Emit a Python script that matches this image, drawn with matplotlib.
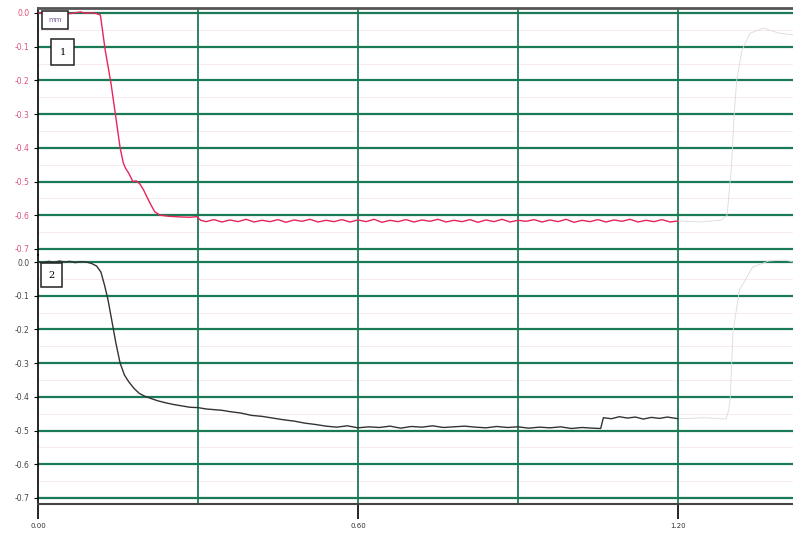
import matplotlib.pyplot as plt

# time axis (s)
x_ticks = [0.0, 0.6, 1.2]
x_grid = [0.3, 0.6, 0.9, 1.2]
y_ticks = [0.0, -0.1, -0.2, -0.3, -0.4, -0.5, -0.6, -0.7]

# channel 1 (red)
red_t = [0.000, 0.010, 0.020, 0.030, 0.040, 0.050, 0.060, 0.070, 0.080, 0.090,
         0.100, 0.110, 0.117, 0.126, 0.137, 0.146, 0.154, 0.160, 0.164, 0.170,
         0.178, 0.184, 0.191, 0.198, 0.204, 0.212, 0.219, 0.229, 0.245, 0.266,
         0.285, 0.298, 0.305, 0.315, 0.330, 0.345, 0.360, 0.375, 0.390, 0.405,
         0.420, 0.435, 0.450, 0.465, 0.480, 0.495, 0.510, 0.525, 0.540, 0.555,
         0.570, 0.585, 0.600, 0.615, 0.630, 0.645, 0.660, 0.675, 0.690, 0.705,
         0.720, 0.735, 0.750, 0.765, 0.780, 0.795, 0.810, 0.825, 0.840, 0.855,
         0.870, 0.885, 0.900, 0.915, 0.930, 0.945, 0.960, 0.975, 0.990, 1.005,
         1.020, 1.035, 1.050, 1.065, 1.080, 1.095, 1.110, 1.125, 1.140, 1.155,
         1.170, 1.185, 1.200]
red_v = [0.000, 0.002, -0.001, 0.003, 0.000, 0.002, -0.002, 0.001, 0.003, -0.001,
         0.001, -0.002, -0.006, -0.110, -0.210, -0.310, -0.400, -0.445, -0.460, -0.475,
         -0.500, -0.498, -0.507, -0.525, -0.545, -0.570, -0.590, -0.600, -0.603, -0.605,
         -0.606, -0.604, -0.615, -0.619, -0.613, -0.620, -0.614, -0.619, -0.612, -0.620,
         -0.615, -0.619, -0.613, -0.621, -0.614, -0.618, -0.612, -0.620, -0.615, -0.619,
         -0.613, -0.620, -0.614, -0.619, -0.612, -0.621, -0.615, -0.619, -0.613, -0.620,
         -0.614, -0.618, -0.612, -0.620, -0.615, -0.619, -0.613, -0.621, -0.614, -0.619,
         -0.612, -0.620, -0.615, -0.618, -0.613, -0.620, -0.614, -0.619, -0.612, -0.621,
         -0.615, -0.619, -0.613, -0.620, -0.614, -0.618, -0.612, -0.620, -0.615, -0.619,
         -0.613, -0.620, -0.617]
red_tail_t = [1.200, 1.240, 1.280, 1.292, 1.300, 1.305, 1.310, 1.320, 1.335, 1.360, 1.390, 1.416]
red_tail_v = [-0.617, -0.620, -0.615, -0.600, -0.460, -0.310, -0.200, -0.110, -0.060, -0.045, -0.060, -0.065]

# channel 2 (black)
blk_t = [0.000, 0.010, 0.020, 0.030, 0.040, 0.050, 0.060, 0.070, 0.080, 0.090,
         0.100, 0.110, 0.118, 0.125, 0.131, 0.138, 0.146, 0.154, 0.162, 0.170,
         0.180, 0.190, 0.200, 0.212, 0.225, 0.240, 0.255, 0.270, 0.285, 0.300,
         0.315, 0.330, 0.345, 0.360, 0.380, 0.400, 0.420, 0.440, 0.460, 0.480,
         0.500, 0.520, 0.540, 0.560, 0.580, 0.600, 0.620, 0.640, 0.660, 0.680,
         0.700, 0.720, 0.740, 0.760, 0.780, 0.800, 0.820, 0.840, 0.860, 0.880,
         0.900, 0.920, 0.940, 0.960, 0.980, 1.000, 1.020, 1.040, 1.055, 1.060,
         1.075, 1.090, 1.105, 1.120, 1.135, 1.150, 1.165, 1.180, 1.200]
blk_v = [0.000, -0.002, 0.002, -0.001, 0.003, 0.000, 0.002, -0.002, 0.001, 0.000,
         -0.004, -0.012, -0.030, -0.070, -0.110, -0.170, -0.240, -0.300, -0.335, -0.355,
         -0.375, -0.390, -0.398, -0.405, -0.412, -0.418, -0.423, -0.427, -0.431, -0.432,
         -0.436, -0.438, -0.440, -0.444, -0.448, -0.455, -0.458, -0.463, -0.468, -0.472,
         -0.478, -0.482, -0.487, -0.490, -0.486, -0.492, -0.489, -0.491, -0.487, -0.493,
         -0.488, -0.490, -0.486, -0.491, -0.489, -0.487, -0.490, -0.492, -0.488, -0.491,
         -0.489, -0.493, -0.490, -0.492, -0.489, -0.494, -0.491, -0.493, -0.494, -0.462,
         -0.465, -0.459, -0.463, -0.460, -0.466, -0.461, -0.464, -0.460, -0.465]
blk_tail_t = [1.200, 1.250, 1.290, 1.295, 1.298, 1.303, 1.315, 1.340, 1.370, 1.400, 1.416]
blk_tail_v = [-0.465, -0.462, -0.466, -0.440, -0.400, -0.210, -0.083, -0.015, 0.003, 0.006, 0.000]

GREEN = '#1b7a56'
RED = '#e8245a'

fig = plt.figure(figsize=(7.93, 5.37), dpi=100)
ax1 = fig.add_axes([0.0479, 0.5251, 0.9521, 0.4600])
ax2 = fig.add_axes([0.0479, 0.06145, 0.9521, 0.4637])

panels = [
    (ax1, red_t, red_v, red_tail_t, red_tail_v, RED, '#e0507a', (0.0148, -0.718)),
    (ax2, blk_t, blk_v, blk_tail_t, blk_tail_v, '#333333', '#444444', (0.0208, -0.718)),
]

for ax, t, v, tt, tv, col, lab_col, ylim in panels:
    ax.set_xlim(0, 1.4156)
    ax.set_ylim(ylim[1], ylim[0])
    for y in y_ticks:
        ax.axhline(y, color=GREEN, linewidth=1.6, zorder=1)
        ax.axhline(y - 0.05, color='#f7e6ec', linewidth=0.6, zorder=0)
    for xg in x_grid:
        ax.axvline(xg, color=GREEN, linewidth=1.3, zorder=1)
    ax.plot(tt, tv, color='#dadada', linewidth=0.6, zorder=2)
    ax.plot(t, v, color=col, linewidth=1.0, zorder=3)
    ax.set_yticks(y_ticks)
    ax.set_yticklabels(['%.1f' % y for y in y_ticks], fontsize=5.5, color=lab_col)
    ax.tick_params(axis='y', length=3, width=0.8, pad=3)
    for s in ['top', 'bottom', 'right']:
        ax.spines[s].set_visible(False)
    ax.spines['left'].set_linewidth(1.2)
    ax.patch.set_alpha(0)

ax1.spines['top'].set_visible(True)
ax1.spines['top'].set_color('#555555')
ax1.spines['top'].set_linewidth(2.0)
ax1.set_xticks([])

ax2.spines['bottom'].set_visible(True)
ax2.spines['bottom'].set_color('#444444')
ax2.spines['bottom'].set_linewidth(1.5)
ax2.set_xticks(x_ticks)
ax2.set_xticklabels(['%.2f' % x for x in x_ticks], fontsize=5, color='#333333')
ax2.tick_params(axis='x', length=11, width=1.2, pad=3)


def label_box(ax, x, y, s, size, pad, **kw):
    ax.text(x, y, s, fontsize=size, ha='center', va='center', zorder=5,
            bbox=dict(boxstyle='square,pad=%.2f' % pad, facecolor='white',
                      edgecolor='#222222', linewidth=1.1), **kw)


label_box(ax1, 0.032, -0.021, 'mm', 5, 0.9, color='#7a5a9a')
label_box(ax1, 0.046, -0.116, '1', 7, 0.85, family='serif')
label_box(ax2, 0.025, -0.039, '2', 7, 0.75, family='serif')

fig.savefig('out.png', dpi=100)
